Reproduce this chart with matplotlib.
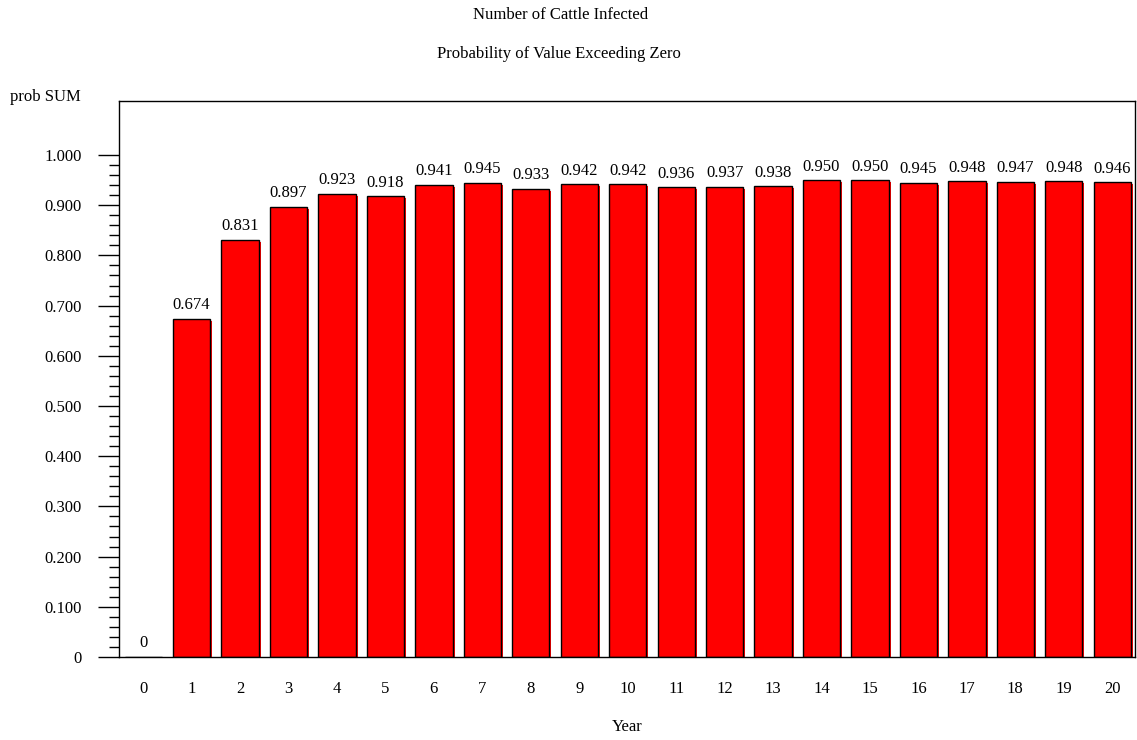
import matplotlib
matplotlib.use("Agg")
import matplotlib.pyplot as plt
import matplotlib.transforms as mtransforms
from matplotlib.ticker import FixedLocator

years = list(range(0, 21))
values = [0, 0.674, 0.831, 0.897, 0.923, 0.918, 0.941, 0.945, 0.933, 0.942, 0.942,
          0.936, 0.937, 0.938, 0.950, 0.950, 0.945, 0.948, 0.947, 0.948, 0.946]
labels = ["0"] + [f"{v:.3f}" for v in values[1:]]
yticks = [0, 0.1, 0.2, 0.3, 0.4, 0.5, 0.6, 0.7, 0.8, 0.9, 1.0]
yticklabels = ["0"] + [f"{t:.3f}" for t in yticks[1:]]

FS = 12
plt.rcParams['font.family'] = ['Liberation Serif', 'DejaVu Serif']
fig = plt.figure(figsize=(11.37, 7.40), dpi=100)
W, H = 1137, 740
ax = fig.add_axes([119 / W, 1 - 657 / H, (1135 - 119) / W, (657 - 101) / H])

# shadow bars
shadow = ax.bar(years, values, width=0.77, color='#ff0000', edgecolor='none', zorder=1)
off = mtransforms.ScaledTranslation(2 / 100, -2 / 100, fig.dpi_scale_trans)
for p in shadow:
    p.set_transform(ax.transData + off)
bars = ax.bar(years, values, width=0.77, color='#ff0000', edgecolor='black', linewidth=1.0, zorder=2)

for x, v, lab in zip(years, values, labels):
    ax.annotate(lab, (x, v), xytext=(0, 4), textcoords='offset points',
                ha='center', va='bottom', fontsize=FS)

ax.set_xlim(-0.5, 20.47)
ax.set_ylim(0, 1.1076)
ax.yaxis.set_major_locator(FixedLocator(yticks))
ax.set_yticklabels(yticklabels, fontsize=FS)
minor = [m / 50 for m in range(0, 51) if m % 5 != 0]
ax.yaxis.set_minor_locator(FixedLocator(minor))
ax.tick_params(axis='y', which='major', direction='out', length=15, width=1.0, pad=12)
ax.tick_params(axis='y', which='minor', direction='out', length=7, width=1.0)
ax.set_xticks(years)
ax.set_xticklabels([str(y) for y in years], fontsize=FS)
ax.tick_params(axis='x', which='both', length=0, pad=17)
for s in ax.spines.values():
    s.set_linewidth(1.0)

fig.text(561 / W, 1 - 15 / H, "Number of Cattle Infected", ha='center', va='center', fontsize=FS)
fig.text(559 / W, 1 - 54 / H, "Probability of Value Exceeding Zero", ha='center', va='center', fontsize=FS)
fig.text(10 / W, 1 - 97 / H, "prob SUM", ha='left', va='center', fontsize=FS)
fig.text(627 / W, 1 - 727 / H, "Year", ha='center', va='center', fontsize=FS)

fig.savefig("out.png", dpi=100)
